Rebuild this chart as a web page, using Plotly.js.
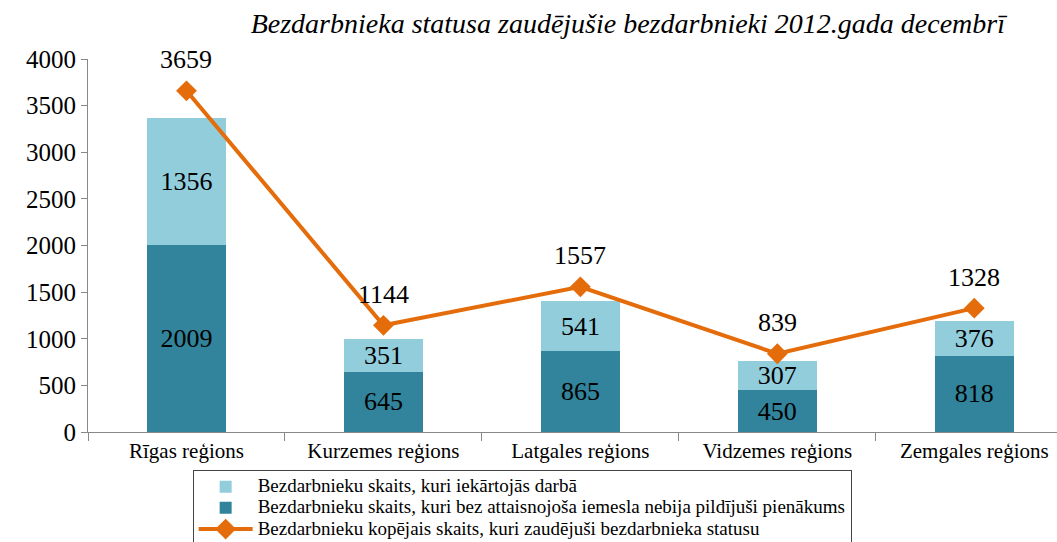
<!DOCTYPE html>
<html>
<head>
<meta charset="utf-8">
<script src="https://cdn.plot.ly/plotly-3.0.1.min.js"></script>
<style>html,body{margin:0;padding:0;background:#fff;}#chart{width:1057px;height:542px;}</style>
</head>
<body>
<div id="chart"></div>
<script>
const categories = ["Rīgas reģions", "Kurzemes reģions", "Latgales reģions", "Vidzemes reģions", "Zemgales reģions"];
const employed = [1356, 351, 541, 307, 376];
const notFulfilled = [2009, 645, 865, 450, 818];
const totalLost = [3659, 1144, 1557, 839, 1328];
const seriesNames = [
  "Bezdarbnieku skaits, kuri iekārtojās darbā",
  "Bezdarbnieku skaits, kuri bez attaisnojoša iemesla nebija pildījuši pienākums",
  "Bezdarbnieku kopējais skaits, kuri zaudējuši bezdarbnieka statusu"
];
const yTicks = [0, 500, 1000, 1500, 2000, 2500, 3000, 3500, 4000];

const serif = "Liberation Serif";
const legendName = s => '<span style="font-size:19px">' + s + '</span>';

const traces = [
  {
    type: "bar", x: categories, y: notFulfilled, name: legendName(seriesNames[1]),
    marker: {color: "#31849B"}, width: 0.4, legendrank: 2,
    text: notFulfilled.map(String), textposition: "inside", insidetextanchor: "middle",
    constraintext: "none",
    textfont: {family: serif, size: 26, color: "#000"}, hoverinfo: "y"
  },
  {
    type: "bar", x: categories, y: employed, name: legendName(seriesNames[0]),
    marker: {color: "#92CDDC"}, width: 0.4, legendrank: 1,
    text: employed.map(String), textposition: "inside", insidetextanchor: "middle",
    constraintext: "none",
    textfont: {family: serif, size: 26, color: "#000"}, hoverinfo: "y"
  },
  {
    type: "scatter", mode: "lines+markers", x: categories, y: totalLost, name: legendName(seriesNames[2]),
    line: {color: "#E46C0A", width: 4}, marker: {symbol: "diamond", size: 16, color: "#E46C0A"},
    legendrank: 3, cliponaxis: false, hoverinfo: "y"
  }
];

const lineLabels = categories.map((c, i) => ({
  x: c, y: totalLost[i], xref: "x", yref: "y",
  text: String(totalLost[i]), showarrow: false, yshift: 31,
  font: {family: serif, size: 26, color: "#000"}
}));

const layout = {
  width: 1057, height: 542,
  margin: {l: 88, r: 0, t: 59, b: 110, autoexpand: false},
  paper_bgcolor: "#fff", plot_bgcolor: "#fff",
  barmode: "stack",
  showlegend: true,
  font: {family: serif, color: "#000"},
  title: {
    text: "<i>Bezdarbnieka statusa zaudējušie bezdarbnieki 2012.gada decembrī</i>",
    font: {family: serif, size: 28, color: "#000"},
    x: 0.594, xanchor: "center", y: 0.958, yanchor: "middle"
  },
  xaxis: {
    type: "category", range: [-0.5, 4.42],
    showline: true, linecolor: "#888", linewidth: 1,
    ticks: "outside", tickson: "boundaries", ticklen: 8, tickcolor: "#888",
    tickfont: {family: serif, size: 21, color: "#000"},
    showgrid: false, zeroline: false
  },
  yaxis: {
    range: [0, 4000], tickvals: yTicks, ticktext: yTicks.map(String),
    showline: true, linecolor: "#888", linewidth: 1,
    ticks: "outside", ticklen: 6, tickcolor: "#888",
    tickfont: {family: serif, size: 25, color: "#000"},
    showgrid: false, zeroline: false
  },
  annotations: lineLabels,
  legend: {
    x: 0.108, xanchor: "left", y: -0.102, yanchor: "top",
    orientation: "v", traceorder: "normal",
    bordercolor: "#444", borderwidth: 1, bgcolor: "#fff",
    font: {family: serif, size: 14, color: "#000"},
    tracegroupgap: 0, itemwidth: 54
  }
};

Plotly.newPlot("chart", traces, layout, {displayModeBar: false, responsive: false});
</script>
</body>
</html>
